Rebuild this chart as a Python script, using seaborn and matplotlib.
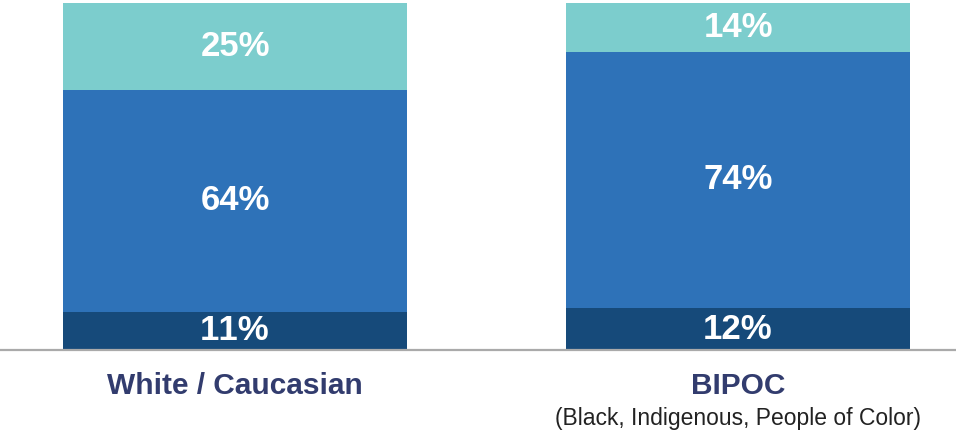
import matplotlib
matplotlib.use("Agg")
import matplotlib.pyplot as plt
import numpy as np
import pandas as pd
import seaborn as sns

# Share of respondents by group, stacked bottom -> top
groups = ["White / Caucasian", "BIPOC"]
subtitles = ["", "(Black, Indigenous, People of Color)"]
bottom_share = [11, 12]
middle_share = [64, 74]
top_share = [25, 14]

colors = {"bottom": "#164a7a", "middle": "#2e72b8", "top": "#7ccdcd"}

sns.set_theme(style="white")
plt.rcParams["font.family"] = ["Liberation Sans", "DejaVu Sans"]
# keep digit pairs such as "11" evenly spaced
plt.rcParams["text.kerning_factor"] = 10

fig = plt.figure(figsize=(9.56, 4.34), dpi=100)
ax = fig.add_axes([0.0, 1 - 350 / 434, 1.0, (350 - 3) / 434])

df = pd.DataFrame({
    "group": groups,
    "bottom": bottom_share,
    "middle": middle_share,
    "top": top_share,
})
df["cum_middle"] = df["bottom"] + df["middle"]
df["cum_top"] = df["cum_middle"] + df["top"]

bar_w = 0.684
# Stack by overlaying cumulative totals, tallest first
for col, key in [("cum_top", "top"), ("cum_middle", "middle"), ("bottom", "bottom")]:
    sns.barplot(data=df, x="group", y=col, color=colors[key], saturation=1,
                width=bar_w, linewidth=0, ax=ax, order=groups)

# Value labels centred in each segment
label_kw = dict(ha="center", va="center", color="white", fontsize=25,
                fontweight="bold")
for i in range(len(groups)):
    b, m, t = bottom_share[i], middle_share[i], top_share[i]
    ax.text(i, b / 2, f"{b}%", **label_kw)
    ax.text(i, b + m / 2, f"{m}%", **label_kw)
    ax.text(i, b + m + t / 2, f"{t}%", **label_kw)

ax.set_ylim(0, 100)
ax.set_xlim(-235 / 503, 1 + (956 - 738) / 503)
ax.set_xticks([])
ax.set_yticks([])
ax.set_xlabel("")
ax.set_ylabel("")
for side in ["top", "left", "right"]:
    ax.spines[side].set_visible(False)
ax.spines["bottom"].set_color("#aaaaaa")
ax.spines["bottom"].set_linewidth(1.6)

# Category labels below the axis
for i, (g, s) in enumerate(zip(groups, subtitles)):
    ax.annotate(g, xy=(i, 0), xycoords="data", xytext=(0, -36),
                textcoords="offset pixels", ha="center", va="center",
                fontsize=21.5, fontweight="bold", color="#323c6e")
    if s:
        ax.annotate(s, xy=(i, 0), xycoords="data", xytext=(0, -68),
                    textcoords="offset pixels", ha="center", va="center",
                    fontsize=16.5, color="#222222")

fig.savefig("out.png", dpi=100)
